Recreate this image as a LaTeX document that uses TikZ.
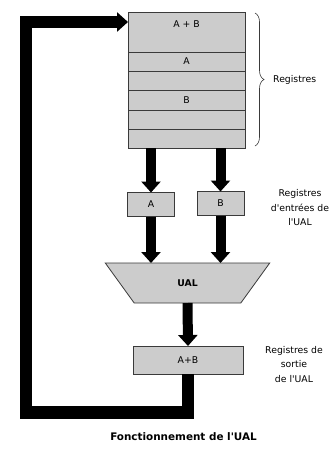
\documentclass[tikz,border=0pt]{standalone}
\usepackage{fontspec}
\setmainfont{DejaVu Sans}[Ligatures=TeXOff]
\usetikzlibrary{arrows.meta,shapes.geometric,decorations.pathreplacing,positioning}
\definecolor{boxfill}{HTML}{CCCCCC}
\definecolor{boxline}{HTML}{3A3A3A}
\begin{document}
\begin{tikzpicture}[x=1pt,y=-1pt,
  reg/.style={draw=boxline,line width=0.8pt,fill=boxfill,minimum width=117pt,inner sep=0pt,outer sep=0pt},
  smallbox/.style={draw=boxline,line width=0.8pt,fill=boxfill,inner sep=0pt,outer sep=0pt},
  lbl/.style={font=\fontsize{9.3}{14.5}\selectfont,align=center,inner sep=0pt},
  bigarrow/.style={line width=10pt,-{Triangle[length=11pt,width=19pt]}},
  fb/.style={line width=12.5pt,line join=miter,-{Triangle[length=11pt,width=19pt]}}
]
\useasboundingbox (0,0) rectangle (335,453);
% register stack
\node[reg,minimum height=40pt] (r1) at (186.5,32) {};
\node[reg,minimum height=19pt,below=0pt of r1] (r2) {};
\node[reg,minimum height=19pt,below=0pt of r2] (r3) {};
\node[reg,minimum height=20pt,below=0pt of r3] (r4) {};
\node[reg,minimum height=19pt,below=0pt of r4] (r5) {};
\node[reg,minimum height=19pt,below=0pt of r5] (r6) {};
\node[lbl] (tab) at (186.5,24) {A + B};
\node[lbl] at (r2) {A};
\node[lbl] at (r4) {B};
% brace
\draw[boxline,line width=0.6pt,decorate,decoration={brace,amplitude=9pt}]
  ([xshift=10pt,yshift=-1pt]r1.north east) -- ([xshift=10pt,yshift=2pt]r6.south east)
  coordinate[midway] (bm);
\node[lbl,anchor=west] (lreg) at (273,80) {Registres};
% input registers
\node[smallbox,minimum width=47pt,minimum height=24pt] (a) at (151,204.5) {\fontsize{9.3}{10}\selectfont A};
\node[smallbox,minimum width=47pt,minimum height=24pt] (b) at (220.5,203.5) {\fontsize{9.3}{10}\selectfont B};
\node[lbl] (lin) at (300,208) {Registres\\d'entrées de\\l'UAL};
% UAL
\node[trapezium,shape border rotate=180,trapezium angle=51.34,trapezium stretches=true,
  minimum width=165pt,minimum height=40pt,draw=boxline,line width=0.8pt,fill=boxfill,inner sep=0pt,outer sep=0pt,
  font=\bfseries\fontsize{9.3}{10}\selectfont] (ual) at (187.5,283) {UAL};
% output register
\node[smallbox,minimum width=110pt,minimum height=28pt] (out) at (188,360) {\fontsize{9.3}{10}\selectfont A+B};
\node[lbl] (lout) at (294,364.5) {Registres de\\sortie\\de l'UAL};
% arrows
\draw[bigarrow] (a.north |- r6.south) -- (a.north);
\draw[bigarrow] (b.north |- r6.south) -- (b.north);
\draw[bigarrow] (a.south) -- (a.south |- ual.north);
\draw[bigarrow] (b.south) -- (b.south |- ual.north);
\draw[bigarrow] (ual.south) -- (out.north);
% feedback
\coordinate (fbl) at (26,412.5);
\draw[fb] (out.south) |- (fbl) |- ([yshift=10pt]r1.west);
% title
\node[font=\bfseries\fontsize{10.4}{12}\selectfont,inner sep=0pt] (title) at (183.5,437) {Fonctionnement de l'UAL};
\end{tikzpicture}
\end{document}
